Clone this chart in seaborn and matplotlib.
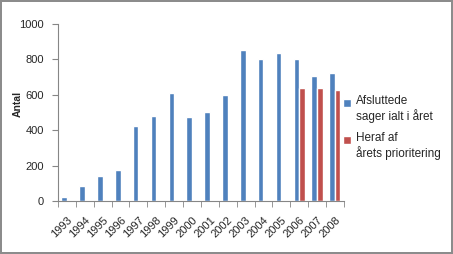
import pandas as pd
import numpy as np
import matplotlib
matplotlib.use("Agg")
import matplotlib.pyplot as plt
from matplotlib.patches import Rectangle
from matplotlib.legend_handler import HandlerPatch
import seaborn as sns

# data
years = ["1993", "1994", "1995", "1996", "1997", "1998", "1999", "2000",
         "2001", "2002", "2003", "2004", "2005", "2006", "2007", "2008"]
afsluttede = [20, 83, 141, 173, 422, 480, 607, 475,
              501, 601, 851, 799, 836, 799, 708, 725]
prioritering = [np.nan] * 13 + [638, 635, 625]
series_names = ["Afsluttede\nsager ialt i året", "Heraf af\nårets prioritering"]
colors = ["#4F81BD", "#C0504D"]

df = pd.DataFrame({
    "year": years * 2,
    "series": [series_names[0]] * len(years) + [series_names[1]] * len(years),
    "value": afsluttede + prioritering,
})

sns.set_style("white")
plt.rcParams["font.family"] = ["Liberation Sans", "DejaVu Sans"]

fig = plt.figure(figsize=(4.53, 2.54), dpi=100, edgecolor="#8c8c8c", linewidth=1.5)
ax = fig.add_axes([0.128, 0.209, 0.631, 0.697])

sns.barplot(data=df, x="year", y="value", hue="series", hue_order=series_names,
            order=years, palette=colors, width=0.62, saturation=1, ax=ax)

ax.set_ylim(0, 1000)
ax.set_yticks(range(0, 1001, 200))
ax.set_xlim(-0.5, len(years) - 0.5)
ax.set_xlabel("")
ax.set_ylabel("Antal", fontsize=7.5, fontweight="bold")
ax.yaxis.set_label_coords(-0.122, 0.55)

for s in ["top", "right"]:
    ax.spines[s].set_visible(False)
for s in ["left", "bottom"]:
    ax.spines[s].set_color("#868686")
    ax.spines[s].set_linewidth(0.8)

ax.tick_params(axis="y", labelsize=8, left=True, length=4, color="#868686", pad=6)
ax.tick_params(axis="x", which="major", labelsize=8, length=0, pad=10)
ax.set_xticks(np.arange(-0.5, len(years), 1), minor=True)
ax.tick_params(axis="x", which="minor", bottom=True, length=4, color="#868686")
plt.setp(ax.get_xticklabels(), rotation=45, ha="right", rotation_mode="anchor")


# legend squares sit next to the first line of each label
def square_top(legend, orig_handle, xdescent, ydescent, width, height, fontsize):
    return Rectangle((-xdescent, -ydescent + 0.55 * fontsize), width, height)


handles, labels = ax.get_legend_handles_labels()
leg = ax.legend(handles, labels, loc="center left", bbox_to_anchor=(0.96, 0.415),
                frameon=False, fontsize=8.5, handlelength=0.65, handleheight=0.65,
                handletextpad=0.45, labelspacing=0.75,
                handler_map={h: HandlerPatch(patch_func=square_top) for h in handles})

fig.savefig("out.png", dpi=100)
